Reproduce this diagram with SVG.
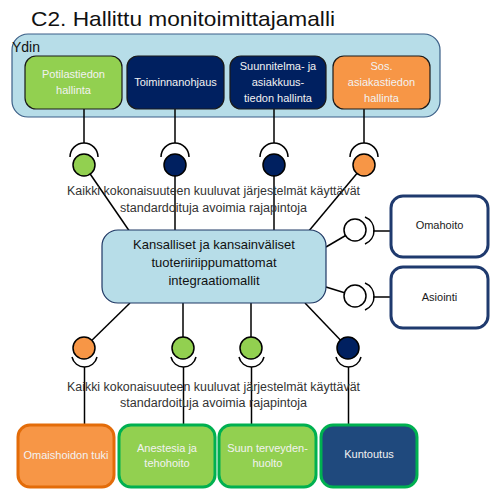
<svg xmlns="http://www.w3.org/2000/svg" width="490" height="490" viewBox="0 0 490 490">
<style>
.bg{fill:#fff}
.line{stroke:#000;stroke-width:1.5;fill:none}
.box{stroke:#1a1a1a;stroke-width:1.2}
.green{fill:#92d050}
.orange{fill:#f79646}
.navy{fill:#002060}
.bt{font-family:"Liberation Sans",Arial,sans-serif;font-size:11px;fill:#f2f2f2;text-anchor:middle}
.wt{font-family:"Liberation Sans",Arial,sans-serif;font-size:11px;fill:#1a1a1a;text-anchor:middle}
.note{font-family:"Liberation Sans",Arial,sans-serif;font-size:12px;fill:#333;text-anchor:middle}
.ball{stroke:#000;stroke-width:1.5}
.rbox{fill:#fff;stroke:#1f3a6e;stroke-width:3}
.bbox{stroke-width:3}
</style>
<rect class="bg" x="0" y="0" width="490" height="490"/>
<text x="31" y="26" font-family="Liberation Sans,Arial,sans-serif" font-size="21" fill="#111" textLength="304" lengthAdjust="spacingAndGlyphs">C2. Hallittu monitoimittajamalli</text>

<g id="ydin">
<rect x="12" y="34" width="428" height="83" rx="16" fill="#b7dde8" stroke="#3b5f87" stroke-width="1.2"/>
<text x="12" y="52" font-family="Liberation Sans,Arial,sans-serif" font-size="14" fill="#111">Ydin</text>
</g>

<g id="connectors">
<line class="line" x1="84" y1="109" x2="84" y2="143"/>
<line class="line" x1="175" y1="109" x2="175" y2="143"/>
<line class="line" x1="274" y1="109" x2="274" y2="143"/>
<line class="line" x1="364" y1="109" x2="364" y2="143"/>
<path class="line" d="M70 157 A14 14 0 0 1 98 157"/>
<path class="line" d="M161 157 A14 14 0 0 1 189 157"/>
<path class="line" d="M260 157 A14 14 0 0 1 288 157"/>
<path class="line" d="M350 157 A14 14 0 0 1 378 157"/>
<line class="line" x1="84" y1="165" x2="130" y2="232"/>
<line class="line" x1="175" y1="165" x2="175" y2="231"/>
<line class="line" x1="274" y1="165" x2="274" y2="231"/>
<line class="line" x1="364" y1="165" x2="308" y2="232"/>
<line class="line" x1="326" y1="247" x2="355" y2="230"/>
<line class="line" x1="326" y1="287" x2="355" y2="296"/>
<path class="line" d="M365 217 A14.6 14.6 0 0 1 365 244"/>
<path class="line" d="M365 283 A14.6 14.6 0 0 1 365 310"/>
<line class="line" x1="373" y1="231" x2="391" y2="231"/>
<line class="line" x1="373" y1="297" x2="391" y2="297"/>
<line class="line" x1="130" y1="303" x2="84" y2="348"/>
<line class="line" x1="183" y1="303" x2="183" y2="348"/>
<line class="line" x1="251" y1="303" x2="251" y2="348"/>
<line class="line" x1="305" y1="303" x2="348" y2="348"/>
<path class="line" d="M72 357 A12.8 12.8 0 0 0 97 357"/>
<path class="line" d="M171 357 A12.8 12.8 0 0 0 196 357"/>
<path class="line" d="M239 357 A12.8 12.8 0 0 0 264 357"/>
<path class="line" d="M336 357 A12.8 12.8 0 0 0 361 357"/>
<line class="line" x1="84.5" y1="367" x2="84.5" y2="424"/>
<line class="line" x1="183.5" y1="367" x2="183.5" y2="424"/>
<line class="line" x1="251.5" y1="367" x2="251.5" y2="424"/>
<line class="line" x1="348.5" y1="367" x2="348.5" y2="424"/>
</g>

<g id="potilastiedon">
<rect class="box green" x="25" y="56" width="97" height="53" rx="11"/>
<text class="bt" x="73.5" y="78">Potilastiedon</text>
<text class="bt" x="73.5" y="94">hallinta</text>
</g>
<g id="toiminnanohjaus">
<rect class="box navy" x="127" y="56" width="97" height="53" rx="11"/>
<text class="bt" x="175.5" y="86">Toiminnanohjaus</text>
</g>
<g id="suunnitelma">
<rect class="box navy" x="230" y="56" width="96" height="53" rx="11"/>
<text class="bt" x="278" y="70">Suunnitelma- ja</text>
<text class="bt" x="278" y="86">asiakkuus-</text>
<text class="bt" x="278" y="102">tiedon hallinta</text>
</g>
<g id="sos">
<rect class="box orange" x="333" y="56" width="97" height="53" rx="11"/>
<text class="bt" x="381.5" y="70">Sos.</text>
<text class="bt" x="381.5" y="86">asiakastiedon</text>
<text class="bt" x="381.5" y="102">hallinta</text>
</g>

<g id="balls-top">
<circle class="ball green" cx="84" cy="165" r="11"/>
<circle class="ball navy" cx="175" cy="165" r="11"/>
<circle class="ball navy" cx="274" cy="165" r="11"/>
<circle class="ball orange" cx="364" cy="165" r="11"/>
</g>

<g id="note-top">
<text class="note" x="213.5" y="195" textLength="293" lengthAdjust="spacingAndGlyphs">Kaikki kokonaisuuteen kuuluvat järjestelmät käyttävät</text>
<text class="note" x="213.5" y="212" textLength="187" lengthAdjust="spacingAndGlyphs">standardoituja avoimia rajapintoja</text>
</g>

<g id="integraatio">
<rect x="102" y="230" width="224" height="73" rx="16" fill="#b7dde8" stroke="#1f3864" stroke-width="1.2"/>
<text x="214" y="249" font-family="Liberation Sans,Arial,sans-serif" font-size="13" fill="#111" text-anchor="middle">Kansalliset ja kansainväliset</text>
<text x="214" y="267" font-family="Liberation Sans,Arial,sans-serif" font-size="13" fill="#111" text-anchor="middle">tuoteriiriippumattomat</text>
<text x="214" y="285" font-family="Liberation Sans,Arial,sans-serif" font-size="13" fill="#111" text-anchor="middle">integraatiomallit</text>
</g>

<g id="balls-right">
<circle class="ball" cx="355" cy="230" r="11" fill="#fff"/>
<circle class="ball" cx="355" cy="296" r="11" fill="#fff"/>
</g>

<g id="omahoito">
<rect class="rbox" x="391" y="196" width="97" height="61" rx="12"/>
<text class="wt" x="439.5" y="229">Omahoito</text>
</g>
<g id="asiointi">
<rect class="rbox" x="391" y="267" width="97" height="61" rx="12"/>
<text class="wt" x="439.5" y="301">Asiointi</text>
</g>

<g id="balls-bottom">
<circle class="ball orange" cx="84" cy="348" r="11"/>
<circle class="ball green" cx="183" cy="348" r="11"/>
<circle class="ball green" cx="251" cy="348" r="11"/>
<circle class="ball navy" cx="348" cy="348" r="11"/>
</g>

<g id="note-bottom">
<text class="note" x="213.5" y="391" textLength="293" lengthAdjust="spacingAndGlyphs">Kaikki kokonaisuuteen kuuluvat järjestelmät käyttävät</text>
<text class="note" x="213.5" y="407" textLength="187" lengthAdjust="spacingAndGlyphs">standardoituja avoimia rajapintoja</text>
</g>

<g id="omaishoidon">
<rect class="bbox orange" x="18" y="425" width="96" height="62" rx="12" stroke="#e36c09"/>
<text class="bt" x="66" y="459">Omaishoidon tuki</text>
</g>
<g id="anestesia">
<rect class="bbox green" x="119" y="425" width="96" height="62" rx="12" stroke="#00b050"/>
<text class="bt" x="167" y="452">Anestesia ja</text>
<text class="bt" x="167" y="467">tehohoito</text>
</g>
<g id="suun">
<rect class="bbox green" x="219" y="425" width="97" height="62" rx="12" stroke="#00b050"/>
<text class="bt" x="267.5" y="452">Suun terveyden-</text>
<text class="bt" x="267.5" y="467">huolto</text>
</g>
<g id="kuntoutus">
<rect class="bbox" x="321" y="425" width="96" height="62" rx="12" fill="#1f497d" stroke="#00b050"/>
<text class="bt" x="369" y="458">Kuntoutus</text>
</g>
</svg>
